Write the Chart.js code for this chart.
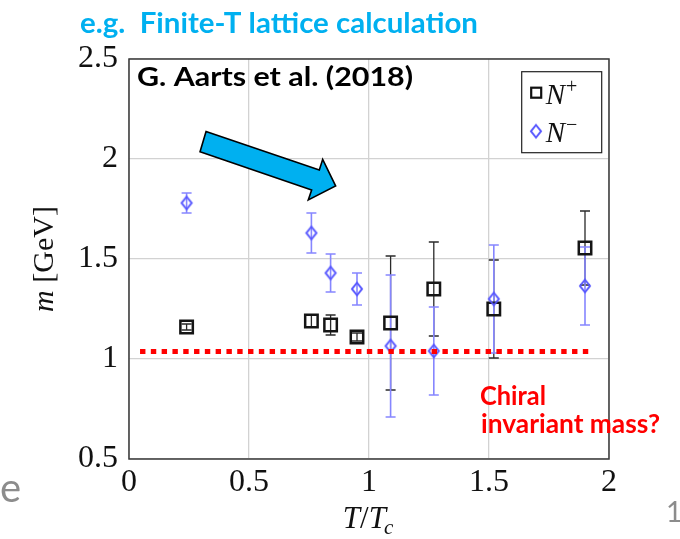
<!DOCTYPE html>
<html>
<head>
<meta charset="utf-8">
<script src="https://cdn.jsdelivr.net/npm/chart.js@4.4.1/dist/chart.umd.min.js"></script>
<style>
  html, body { margin: 0; background: #fff; }
  #wrap { width: 680px; height: 539px; position: relative; }
</style>
</head>
<body>
<div id="wrap"><canvas id="mass-chart"></canvas></div>
<script>
// N+ channel: temperature (T/Tc), mass (GeV), error
const tPlus  = [0.24, 0.76, 0.84, 0.95, 1.09, 1.27, 1.52, 1.90];
const mPlus  = [1.16, 1.19, 1.17, 1.11, 1.18, 1.35, 1.25, 1.555];
const ePlus  = [0.015, 0.03, 0.05, 0.02, 0.335, 0.235, 0.245, 0.185];

// N- channel
const tMinus = [0.24, 0.76, 0.84, 0.95, 1.09, 1.27, 1.52, 1.90];
const mMinus = [1.78, 1.63, 1.43, 1.35, 1.065, 1.04, 1.30, 1.365];
const eMinus = [0.05, 0.10, 0.095, 0.08, 0.355, 0.22, 0.27, 0.195];

// chiral invariant mass guess line
const chiralMass  = 1.037;
const chiralRange = [0.046, 1.93];

const xTicks = [0, 0.5, 1, 1.5, 2];
const yTicks = [0.5, 1, 1.5, 2, 2.5];

// arrow outline, in (T/Tc, GeV)
const arrowShape = [
  [0.321, 2.137], [0.793, 1.945], [0.807, 1.9985], [0.861, 1.865],
  [0.747, 1.795], [0.761, 1.845], [0.296, 2.0365]
];

const SERIF = '"Liberation Serif", "DejaVu Serif", serif';
const SANS  = 'Lato, "Open Sans", sans-serif';
const BLUE  = '#5656ff';

function diamondImg(w, h, color, lw) {
  const c = document.createElement('canvas');
  c.width = Math.ceil(w + lw * 2); c.height = Math.ceil(h + lw * 2);
  const g = c.getContext('2d');
  const cx = c.width / 2, cy = c.height / 2;
  g.strokeStyle = color; g.lineWidth = lw;
  g.beginPath();
  g.moveTo(cx, cy - h / 2); g.lineTo(cx + w / 2, cy);
  g.lineTo(cx, cy + h / 2); g.lineTo(cx - w / 2, cy);
  g.closePath(); g.stroke();
  return c;
}
const diamond = diamondImg(10, 12.5, BLUE, 2);

// draw text at a given size, squeezed sideways to span a given width
function fitText(ctx, text, x, y, size, style, family, width) {
  ctx.font = `${style} ${size}px ${family}`;
  const w = ctx.measureText(text).width;
  ctx.save();
  ctx.translate(x, y);
  ctx.scale(width / w, 1);
  ctx.fillText(text, 0, 0);
  ctx.restore();
}

const frame = {
  id: 'frame',
  beforeDatasetsDraw(chart) {
    const { ctx, chartArea: a } = chart;
    ctx.save();
    ctx.strokeStyle = '#3a3a3a'; ctx.lineWidth = 1.5;
    ctx.strokeRect(a.left, a.top, a.right - a.left, a.bottom - a.top);
    ctx.restore();
  }
};

const errorBars = {
  id: 'errorBars',
  beforeDatasetsDraw(chart) {
    const { ctx } = chart;
    const xs = chart.scales.x, ys = chart.scales.y;
    const sets = [
      { t: tPlus, m: mPlus, e: ePlus, color: '#2a2a2a', lw: 1.3 },
      { t: tMinus, m: mMinus, e: eMinus, color: '#8686ff', lw: 1.6 }
    ];
    ctx.save();
    sets.forEach(s => {
      ctx.strokeStyle = s.color; ctx.lineWidth = s.lw;
      s.t.forEach((t, i) => {
        const x = xs.getPixelForValue(t);
        const y1 = ys.getPixelForValue(s.m[i] + s.e[i]);
        const y2 = ys.getPixelForValue(s.m[i] - s.e[i]);
        ctx.beginPath();
        ctx.moveTo(x, y1); ctx.lineTo(x, y2);
        ctx.moveTo(x - 5, y1); ctx.lineTo(x + 5, y1);
        ctx.moveTo(x - 5, y2); ctx.lineTo(x + 5, y2);
        ctx.stroke();
      });
    });
    ctx.restore();
  }
};

const overlay = {
  id: 'overlay',
  afterDraw(chart) {
    const { ctx, chartArea: a } = chart;
    const xs = chart.scales.x, ys = chart.scales.y;
    ctx.save();

    // arrow
    ctx.beginPath();
    arrowShape.forEach(([t, m], i) => {
      const px = xs.getPixelForValue(t), py = ys.getPixelForValue(m);
      i ? ctx.lineTo(px, py) : ctx.moveTo(px, py);
    });
    ctx.closePath();
    ctx.fillStyle = '#00b0f0'; ctx.fill();
    ctx.strokeStyle = '#000'; ctx.lineWidth = 1.6; ctx.lineJoin = 'miter'; ctx.stroke();

    // headings
    ctx.textAlign = 'left'; ctx.textBaseline = 'alphabetic';
    ctx.fillStyle = '#00b0f0';
    fitText(ctx, 'e.g.  Finite-T lattice calculation', 80, 33, 29, 'bold', SANS, 398);
    ctx.fillStyle = '#000';
    fitText(ctx, 'G. Aarts et al. (2018)', 137, 86, 26.5, 'bold', SANS, 276);
    ctx.fillStyle = '#ff0000';
    fitText(ctx, 'Chiral', 480, 405, 27, 'bold', SANS, 66);
    fitText(ctx, 'invariant mass?', 481, 433, 27, 'bold', SANS, 179);

    // legend
    const lx = a.right - 87.3, ly = a.top + 12.7;
    ctx.strokeStyle = '#222'; ctx.lineWidth = 1.2;
    ctx.strokeRect(lx, ly, 80, 81);
    ctx.strokeStyle = '#111'; ctx.lineWidth = 2.2;
    ctx.strokeRect(lx + 9.5, ly + 16, 10, 10);
    ctx.drawImage(diamond, lx + 14.3 - diamond.width / 2, ly + 59.5 - diamond.height / 2);
    ctx.fillStyle = '#111';
    ['+', '\u2212'].forEach((sup, i) => {
      const by = ly + 32 + i * 38;
      ctx.font = `italic 29px ${SERIF}`;
      ctx.fillText('N', lx + 24, by);
      const w = ctx.measureText('N').width;
      ctx.font = `20px ${SERIF}`;
      ctx.fillText(sup, lx + 24 + w + 1, by - 11);
    });

    // axis titles
    ctx.save();
    ctx.translate(45, (a.top + a.bottom) / 2);
    ctx.rotate(-Math.PI / 2);
    ctx.textBaseline = 'middle';
    ctx.font = `italic 30px ${SERIF}`;
    const wm = ctx.measureText('m').width;
    ctx.font = `30px ${SERIF}`;
    const wr = ctx.measureText(' [GeV]').width;
    const x0 = -(wm + wr) / 2;
    ctx.font = `italic 30px ${SERIF}`;
    ctx.fillText('m', x0, 0);
    ctx.font = `30px ${SERIF}`;
    ctx.fillText(' [GeV]', x0 + wm, 0);
    ctx.restore();

    ctx.font = `italic 31px ${SERIF}`;
    const wT = ctx.measureText('T').width;
    ctx.font = `31px ${SERIF}`;
    const wS = ctx.measureText('/').width;
    ctx.font = `21px ${SERIF}`;
    const wc = ctx.measureText('c').width;
    const cx = (a.left + a.right) / 2 - (2 * wT + wS + wc) / 2;
    ctx.font = `italic 31px ${SERIF}`;
    ctx.fillText('T', cx, 528);
    ctx.font = `31px ${SERIF}`;
    ctx.fillText('/', cx + wT, 528);
    ctx.font = `italic 31px ${SERIF}`;
    ctx.fillText('T', cx + wT + wS, 528);
    ctx.font = `italic 21px ${SERIF}`;
    ctx.fillText('c', cx + 2 * wT + wS - 2, 534);

    // slide text at the edges
    ctx.fillStyle = '#8c8c8c';
    ctx.font = `40px ${SANS}`;
    ctx.fillText('e', 0, 502);
    ctx.font = `28px ${SANS}`;
    ctx.fillText('1', 666, 522);

    ctx.restore();
  }
};

const tickFont = { family: SERIF, size: 32 };

new Chart(document.getElementById('mass-chart'), {
  type: 'scatter',
  data: {
    datasets: [
      {
        type: 'line',
        label: 'chiral',
        data: chiralRange.map(t => ({ x: t, y: chiralMass })),
        borderColor: '#ff0000',
        borderWidth: 5,
        borderDash: [5.4, 5.4],
        borderCapStyle: 'butt',
        pointRadius: 0,
        fill: false,
        order: 0
      },
      {
        label: 'N-',
        data: tMinus.map((t, i) => ({ x: t, y: mMinus[i] })),
        pointStyle: diamond,
        pointRadius: 6,
        order: 1
      },
      {
        label: 'N+',
        data: tPlus.map((t, i) => ({ x: t, y: mPlus[i] })),
        pointStyle: 'rect',
        pointRadius: 8.8,
        borderColor: '#151515',
        borderWidth: 2.5,
        backgroundColor: 'rgba(0,0,0,0)',
        order: 2
      }
    ]
  },
  options: {
    responsive: true,
    maintainAspectRatio: false,
    animation: false,
    events: [],
    layout: { padding: { top: 59, right: 71, left: 0, bottom: 0 } },
    plugins: { legend: { display: false }, tooltip: { enabled: false } },
    scales: {
      x: {
        type: 'linear', min: 0, max: 2,
        afterBuildTicks: s => { s.ticks = xTicks.map(v => ({ value: v })); },
        afterFit: s => { s.height = 80; },
        ticks: { font: tickFont, color: '#111', padding: 4, maxRotation: 0,
                 callback: v => String(v) },
        grid: { color: '#d2d2d2', lineWidth: 1.3, drawTicks: false },
        border: { display: false }
      },
      y: {
        type: 'linear', min: 0.5, max: 2.5,
        afterBuildTicks: s => { s.ticks = yTicks.map(v => ({ value: v })); },
        afterFit: s => { s.width = 129; },
        ticks: { font: tickFont, color: '#111', padding: 11,
                 callback: v => String(v) },
        grid: { color: '#d2d2d2', lineWidth: 1.3, drawTicks: false },
        border: { display: false }
      }
    }
  },
  plugins: [frame, errorBars, overlay]
});
</script>
</body>
</html>
